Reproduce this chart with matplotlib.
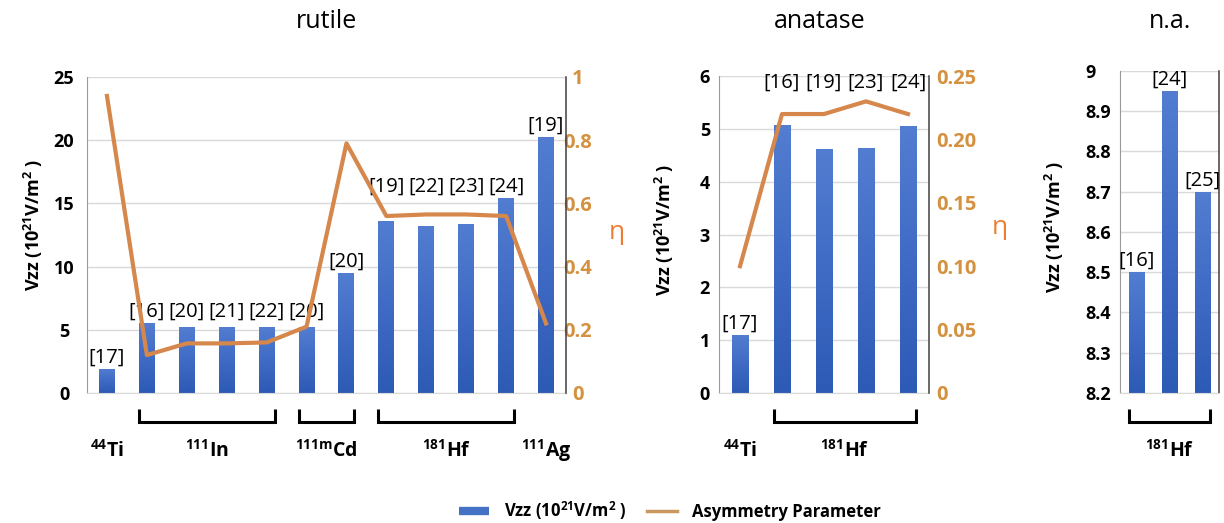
import numpy as np
import matplotlib
matplotlib.use("Agg")
import matplotlib.pyplot as plt
import matplotlib.transforms as mtransforms
from matplotlib.colors import LinearSegmentedColormap
from matplotlib.lines import Line2D

plt.rcParams['font.family'] = ['Open Sans', 'DejaVu Sans']
plt.rcParams['mathtext.fontset'] = 'custom'
plt.rcParams['mathtext.rm'] = 'Open Sans'
plt.rcParams['mathtext.bf'] = 'Open Sans:bold'
plt.rcParams['mathtext.it'] = 'Open Sans:italic'

# ---------------- data ----------------
rutile_vzz = [1.92, 5.5, 5.2, 5.26, 5.2, 5.2, 9.47, 13.63, 13.24, 13.39, 15.45, 20.26]
rutile_eta = [0.94, 0.12, 0.157, 0.157, 0.16, 0.21, 0.79, 0.56, 0.565, 0.565, 0.56, 0.22]
rutile_refs = ["[17]", "[16]", "[20]", "[21]", "[22]", "[20]", "[20]", "[19]", "[22]", "[23]", "[24]", "[19]"]
rutile_rows = [[0], [1, 2, 3, 4, 5], [6], [7, 8, 9, 10], [11]]
rutile_groups = [("44", "Ti", 0, 0), ("111", "In", 1, 4), ("111m", "Cd", 5, 6),
                 ("181", "Hf", 7, 10), ("111", "Ag", 11, 11)]
rutile_yticks = [0, 5, 10, 15, 20, 25]
rutile_eta_ticks = [0, 0.2, 0.4, 0.6, 0.8, 1.0]
rutile_eta_labels = ["0", "0.2", "0.4", "0.6", "0.8", "1"]

anatase_vzz = [1.1, 5.08, 4.61, 4.63, 5.06]
anatase_eta = [0.10, 0.22, 0.22, 0.23, 0.22]
anatase_refs = ["[17]", "[16]", "[19]", "[23]", "[24]"]
anatase_rows = [[0], [1, 2, 3, 4]]
anatase_groups = [("44", "Ti", 0, 0), ("181", "Hf", 1, 4)]
anatase_yticks = [0, 1, 2, 3, 4, 5, 6]
anatase_eta_ticks = [0, 0.05, 0.10, 0.15, 0.20, 0.25]
anatase_eta_labels = ["0", "0.05", "0.10", "0.15", "0.20", "0.25"]

na_vzz = [8.5, 8.95, 8.7]
na_refs = ["[16]", "[24]", "[25]"]
na_rows = [[0], [1], [2]]
na_groups = [("181", "Hf", 0, 2)]
na_yticks = [8.2, 8.3, 8.4, 8.5, 8.6, 8.7, 8.8, 8.9, 9.0]
na_ytick_labels = ["8.2", "8.3", "8.4", "8.5", "8.6", "8.7", "8.8", "8.9", "9"]

titles = ["rutile", "anatase", "n.a."]

# ---------------- style ----------------
W, H = 1224, 523
BAR_CMAP = LinearSegmentedColormap.from_list("barg", ["#2D5AB4", "#3F6BC5", "#527DD0"])
LINE_C = "#D6874C"
LEG_LINE_C = "#C9975F"
RIGHT_TICK_C = "#D4913F"
ETA_C = "#EE7D31"
GRID_C = "#D9D9D9"
YLAB = r"Vzz (10$^{\mathbf{21}}$V/m$^{\mathbf{2}}$ )"

fig = plt.figure(figsize=(W / 100, H / 100), dpi=100)


def px_ax(l, r, t, b):
    return fig.add_axes([l / W, 1 - b / H, (r - l) / W, (b - t) / H])


def panel(box, vzz, refs, rows, groups, ylim, yticks, ylabels, lpad, lha, bar_w,
          eta=None, eta_lim=None, eta_ticks=None, eta_labels=None, rpad=None, rha=None):
    l, r, t, b = box
    ax = px_ax(l, r, t, b)
    n = len(vzz)
    x = np.arange(n)
    bars = ax.bar(x, vzz, bar_w, facecolor="none", edgecolor="none", zorder=2)
    grad = np.linspace(0, 1, 256).reshape(-1, 1)
    for rect in bars:
        x0 = rect.get_x()
        im = ax.imshow(grad, cmap=BAR_CMAP, origin="lower", aspect="auto",
                       extent=[x0, x0 + rect.get_width(), max(ylim[0], 0), rect.get_height()],
                       zorder=2, interpolation="bilinear")
        im.set_clip_path(rect)
    ax.set_xlim(-0.5, n - 0.5)
    ax.set_ylim(*ylim)
    ax.set_yticks(yticks)
    ax.set_yticklabels(ylabels, fontsize=13, fontweight="bold")
    for lab in ax.get_yticklabels():
        lab.set_horizontalalignment(lha)
    ax.tick_params(axis="y", length=0, pad=lpad)
    ax.set_xticks([])
    ax.yaxis.grid(True, color=GRID_C, lw=1)
    ax.set_axisbelow(True)
    ax.spines["top"].set_visible(False)
    ax.spines["bottom"].set_color(GRID_C)
    ax.spines["left"].set_color("#9A9A9A")
    ax.spines["right"].set_color("#404040")
    ax.spines["right"].set_linewidth(1.1)

    if eta is not None:
        ax.spines["right"].set_visible(False)
        ax2 = ax.twinx()
        ax2.plot(x, eta, color=LINE_C, lw=3, zorder=3)
        ax2.set_ylim(*eta_lim)
        ax2.set_yticks(eta_ticks)
        ax2.set_yticklabels(eta_labels, fontsize=14.5, fontweight="bold", color=RIGHT_TICK_C)
        for lab in ax2.get_yticklabels():
            lab.set_horizontalalignment(rha)
        ax2.tick_params(axis="y", length=0, pad=rpad)
        for s in ["top", "left", "bottom"]:
            ax2.spines[s].set_visible(False)
        ax2.spines["right"].set_color("#404040")
        ax2.spines["right"].set_linewidth(1.1)

    # reference labels
    for row in rows:
        base = max(vzz[i] for i in row)
        extra = 0
        if eta is not None and len(row) > 1:
            lm = max(eta[i] for i in row) / eta_lim[1] * (ylim[1] - ylim[0]) + ylim[0]
            if lm > base:
                base, extra = lm, 5
        for i in row:
            ax.annotate(refs[i], (i, base), xytext=(0, 1 + extra), textcoords="offset points",
                        ha="center", va="bottom", fontsize=14.5, annotation_clip=False, zorder=5)

    # isotope brackets and labels
    trans = mtransforms.blended_transform_factory(ax.transData, ax.transAxes)
    fy = lambda yp: (b - yp) / (b - t)
    for sup, el, i0, i1 in groups:
        if i1 > i0:
            xa, xb = i0 - bar_w / 2, i1 + bar_w / 2
            ax.plot([xa, xa, xb, xb], [fy(409), fy(422), fy(422), fy(409)], transform=trans,
                    color="black", lw=2.2, clip_on=False, solid_joinstyle="miter",
                    solid_capstyle="butt")
        ax.text((i0 + i1) / 2, fy(457), r"$^{\mathbf{%s}}\mathbf{%s}$" % (sup, el),
                transform=trans, ha="center", va="baseline", fontsize=14)
    return ax


panel((87, 566, 77, 393), rutile_vzz, rutile_refs, rutile_rows, rutile_groups,
      (0, 25), rutile_yticks, [str(v) for v in rutile_yticks], 16.5, "center", 0.4,
      rutile_eta, (0, 1), rutile_eta_ticks, rutile_eta_labels, 8.5, "center")
panel((719, 929, 76, 393), anatase_vzz, anatase_refs, anatase_rows, anatase_groups,
      (0, 6), anatase_yticks, [str(v) for v in anatase_yticks], 6.5, "right", 0.39,
      anatase_eta, (0, 0.25), anatase_eta_ticks, anatase_eta_labels, 5, "left")
panel((1120, 1219, 71, 393), na_vzz, na_refs, na_rows, na_groups,
      (8.2, 9.0), na_yticks, na_ytick_labels, 25, "left", 0.48)

# titles, axis labels
for txt, xc in zip(titles, [326, 820, 1170]):
    fig.text(xc / W, 1 - 22 / H, txt, ha="center", va="center", fontsize=18)
for xc, yc in [(33, 225), (664, 230), (1054, 227)]:
    fig.text(xc / W, 1 - yc / H, YLAB, rotation=90, ha="center", va="center",
             fontsize=13, fontweight="bold")
for xc, yc in [(617, 232), (1000, 228)]:
    fig.text(xc / W, 1 - yc / H, "η", color=ETA_C, fontsize=19, ha="center", va="center")

handles = [Line2D([], [], color="#4472C4", lw=6, solid_capstyle="butt"),
           Line2D([], [], color=LEG_LINE_C, lw=2.5)]
fig.legend(handles, [YLAB, "Asymmetry Parameter"], loc="center",
           bbox_to_anchor=(670 / W, 1 - 511 / H), ncol=2, frameon=False,
           prop={"weight": "bold", "size": 12}, handlelength=1.8, handletextpad=0.9,
           columnspacing=1.2)

fig.savefig("out.png", dpi=100)
